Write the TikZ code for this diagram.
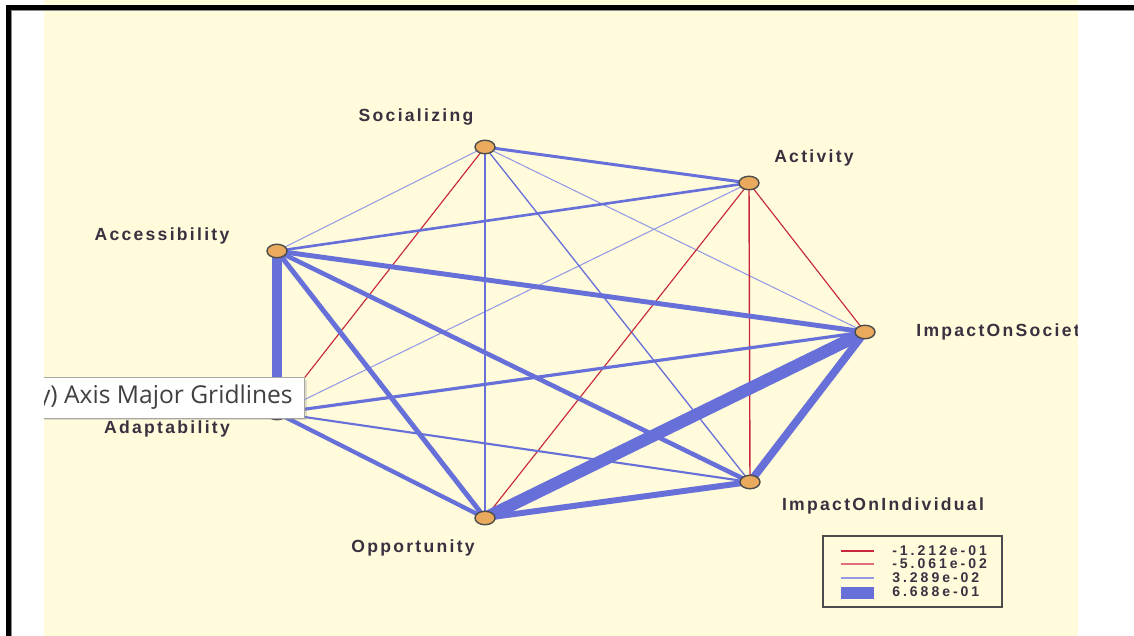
\documentclass[tikz,border=0pt]{standalone}
\usepackage{fontspec}
\setmainfont{Liberation Sans}
\newfontfamily\netfont[LetterSpace=13]{Liberation Sans}
\newfontfamily\keyfont[LetterSpace=21]{Liberation Sans}
\newfontfamily\tipfont{Open Sans}
\usetikzlibrary{positioning,shapes.geometric,shadows,backgrounds}
\definecolor{paper}{HTML}{FFFBDB}
\definecolor{cpos}{HTML}{6670D8}
\definecolor{cposl}{HTML}{929AE6}
\definecolor{cneg}{HTML}{C8283C}
\definecolor{cnegl}{HTML}{E0707E}
\definecolor{cdot}{HTML}{E9AA5E}
\definecolor{ctxt}{HTML}{3A3040}
\tikzset{
  vtx/.style={ellipse, draw=black!70, fill=cdot, thick, inner sep=0pt,
              minimum width=0.4cm, minimum height=0.27cm},
  lbl/.style={font=\netfont\bfseries\fontsize{10}{12}\selectfont, text=ctxt, inner sep=0pt},
  keytxt/.style={font=\keyfont\bfseries\fontsize{8}{9}\selectfont, text=ctxt, inner sep=0pt, anchor=west},
  weak/.style={draw=cposl, line width=0.6pt},
  thin/.style={draw=cpos, line width=0.75pt},
  neg/.style={draw=cneg, line width=0.65pt},
  pos/.style={draw=cpos, line width=#1}
}

\begin{document}
\begin{tikzpicture}[x=0.02cm, y=-0.02cm]
\useasboundingbox (0,0) rectangle (1134,636);
% vertices
\node[vtx] (soc) at (485,147) {};
\node[vtx] (act) at (749,183) {};
\node[vtx] (acc) at (277,251) {};
\node[vtx] (ios) at (865,332) {};
\node[vtx] (ioi) at (750,482) {};
\node[vtx] (opp) at (485,518) {};
\node[vtx] (ada) at (277,413) {};
% labels
\node[lbl] (soclbl) at (416,117) {Socializing};
\node[lbl] (actlbl) at (814,158) {Activity};
\node[lbl] (acclbl) at (162,236) {Accessibility};
\node[lbl, anchor=west] (ioslbl) at (916,332) {ImpactOnSociety};
\node[lbl] (ioilbl) at (883,506) {ImpactOnIndividual};
\node[lbl] (opplbl) at (413,548) {Opportunity};
\node[lbl] (adalbl) at (167,429) {Adaptability};
\begin{scope}[on background layer]
\fill[paper] (44,0) rectangle (1078,636);
% weak links
\draw[weak] (soc.center)--(acc.center); \draw[weak] (soc.center)--(ios.center);
\draw[weak] (act.center)--(ada.center);
\draw[thin] (soc.center)--(opp.center); \draw[thin] (soc.center)--(ioi.center);
% negative links
\draw[neg] (soc.center)--(ada.center); \draw[neg] (act.center)--(opp.center);
\draw[neg, line width=0.8pt] (act.center)--(ioi.center); \draw[neg] (act.center)--(ios.center);
% positive links
\draw[pos=1.7pt] (soc.center)--(act.center);
\draw[pos=1.5pt] (acc.center)--(act.center);
\draw[pos=2.8pt] (acc.center)--(ios.center);
\draw[pos=2.6pt] (acc.center)--(ioi.center);
\draw[pos=2.8pt] (acc.center)--(opp.center);
\draw[pos=5.6pt] (acc.center)--(ada.center);
\draw[pos=1.8pt] (ada.center)--(ios.center);
\draw[pos=1.2pt] (ada.center)--(ioi.center);
\draw[pos=2.4pt] (ada.center)--(opp.center);
\draw[pos=7pt] (opp.center)--(ios.center);
\draw[pos=3.4pt] (opp.center)--(ioi.center);
\draw[pos=4.4pt] (ioi.center)--(ios.center);
\end{scope}
% legend
\draw[black!70, line width=1.1pt, fill=paper] (823,536) rectangle (1002,607);
\node[keytxt] (k1) at (892,551) {-1.212e-01};
\node[keytxt] (k2) at (892,564) {-5.061e-02};
\node[keytxt] (k3) at (892,578) {3.289e-02};
\node[keytxt] (k4) at (892,592) {6.688e-01};
\draw[neg] (841,551)--(874,551);
\draw[cnegl, line width=0.8pt] (841,564)--(874,564);
\draw[weak] (841,578)--(874,578);
\fill[cpos] (841,587) rectangle (874,599);
% tooltip
\node[draw=black!35, fill=white, drop shadow={shadow xshift=0.05cm, shadow yshift=-0.05cm, opacity=0.25},
      anchor=east, minimum height=0.82cm, inner xsep=0.24cm,
      font=\tipfont\fontsize{14}{16}\selectfont, text=black!75] (tip) at (305,397.5) {(y) Axis Major Gridlines};
% frame
\fill[white] (0,0) rectangle (44,636);
\fill[white] (1078,0) rectangle (1134,636);
\fill[black] (6,5) rectangle (1134,10);
\fill[black] (6,5) rectangle (11,636);
\draw[black!45, line width=0.5pt] (11,10.5)--(1134,10.5);
\draw[black!45, line width=0.5pt] (11.5,10)--(11.5,636);
\end{tikzpicture}
\end{document}
